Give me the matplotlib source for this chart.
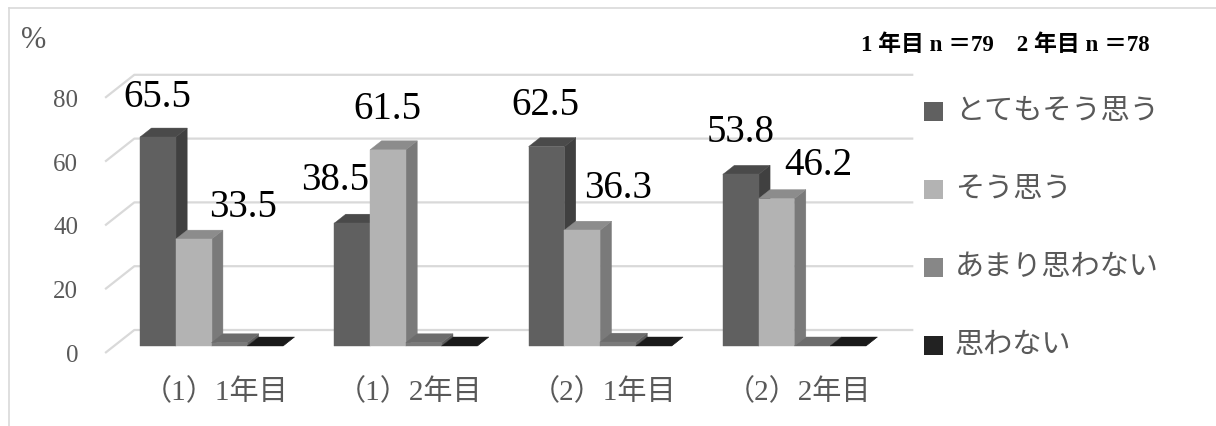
import matplotlib.pyplot as plt
from matplotlib.patches import Polygon, Rectangle
from matplotlib.lines import Line2D

# ── Data ────────────────────────────────────────────────────────────────
CATEGORIES    = ["（1）1年目", "（1）2年目", "（2）1年目", "（2）2年目"]
SERIES        = ["とてもそう思う", "そう思う", "あまり思わない", "思わない"]
VERY_AGREE    = [65.5, 38.5, 62.5, 53.8]
AGREE         = [33.5, 61.5, 36.3, 46.2]
SOMEWHAT_NOT  = [1.0, 1.0, 1.2, 0.0]
DISAGREE      = [0.0, 0.0, 0.0, 0.0]
Y_TICKS       = [0, 20, 40, 60, 80]
NOTE          = "1 年目 n ＝79　2 年目 n ＝78"

VALUES = [VERY_AGREE, AGREE, SOMEWHAT_NOT, DISAGREE]
LABELLED = [True, True, False, False]

# ── Style ───────────────────────────────────────────────────────────────
# (front, side, top) shades per series
SHADES = [("#606060", "#404040", "#4a4a4a"),
          ("#b3b3b3", "#7a7a7a", "#8c8c8c"),
          ("#7a7a7a", "#5c5c5c", "#6c6c6c"),
          ("#242424", "#111111", "#1a1a1a")]
LEGEND_COLORS = ["#606060", "#b3b3b3", "#878787", "#222222"]
GRID = "#d9d9d9"
TXT = "#595959"
SERIF = ["Liberation Serif", "Noto Sans CJK JP"]
JP = ["Noto Sans CJK JP", "DejaVu Sans"]

# data-label offsets (px): horizontal from bar centre, baseline above bar top
LABEL_DX = [[-1, 49], [-17, -1], [-1, 36], [0, 42]]
LABEL_DY = [[30, 22], [33, 31], [32, 32], [32, 24]]

W, H = 1216, 426
GROUP_PX, BAR_PX, X0_PX = 194.3, 35.75, 140.0
UNIT_PX, BASE_PX = 3.19, 346.0
bw = BAR_PX / GROUP_PX


def depth(d):
    """oblique 3D offset (data units) for a depth of d pixels"""
    return 1.27 * d / GROUP_PX, d / UNIT_PX


fig = plt.figure(figsize=(W / 100, H / 100), dpi=100)
fig.patch.set_facecolor("white")
ax = fig.add_axes([0, 0, 1, 1])
ax.set_xlim(-X0_PX / GROUP_PX, (W - X0_PX) / GROUP_PX)
ax.set_ylim((BASE_PX - H) / UNIT_PX, BASE_PX / UNIT_PX)
ax.axis("off")

# chart border (left + top only visible)
fig.add_artist(Line2D([9 / W, 9 / W], [0, 1 - 8 / H], color=GRID, lw=1.2,
                      transform=fig.transFigure))
fig.add_artist(Line2D([9 / W, 1], [1 - 8 / H, 1 - 8 / H], color=GRID, lw=1.2,
                      transform=fig.transFigure))

# ── 3D gridlines: side wall diagonal + back wall line ──────────────────
wall_l = (114 - X0_PX) / GROUP_PX
wall_r = (893 - X0_PX) / GROUP_PX
fx, fy = depth(-7)
bx, by = depth(16)
for v in Y_TICKS:
    ax.plot([wall_l + fx, wall_l + bx, wall_r + bx], [v + fy, v + by, v + by],
            color=GRID, lw=1.6, zorder=1, solid_capstyle="butt")
    ax.text(wall_l + fx - 27 / GROUP_PX, v + fy - 9 / UNIT_PX, str(v),
            ha="right", va="baseline", fontsize=18, color=TXT, family=SERIF)

fig.text(21 / W, 1 - 40 / H, "%", ha="left", va="center", fontsize=22,
         color=TXT, family=SERIF)

# ── Bars ────────────────────────────────────────────────────────────────
ddx, ddy = depth(9)
for g in range(len(CATEGORIES)):
    for s, vals in enumerate(VALUES):
        v = vals[g]
        x0 = g + s * bw
        x1 = x0 + bw
        front, side, top = SHADES[s]
        z = 2 + s * 0.1
        ax.add_patch(Polygon([(x1, 0), (x1 + ddx, ddy), (x1 + ddx, v + ddy), (x1, v)],
                             closed=True, fc=side, ec=side, lw=0.3, zorder=z))
        ax.add_patch(Polygon([(x0, v), (x1, v), (x1 + ddx, v + ddy), (x0 + ddx, v + ddy)],
                             closed=True, fc=top, ec=top, lw=0.3, zorder=z))
        if v > 0:
            ax.add_patch(Polygon([(x0, 0), (x1, 0), (x1, v), (x0, v)],
                                 closed=True, fc=front, ec=front, lw=0.3, zorder=z + 0.05))
        if LABELLED[s]:
            ax.text(x0 + bw / 2 + LABEL_DX[g][s] / GROUP_PX,
                    v + LABEL_DY[g][s] / UNIT_PX, f"{v:.1f}",
                    ha="center", va="baseline", fontsize=28, color="black",
                    family=SERIF, zorder=5)

    ax.text(g + 2 * bw + 0.02, (BASE_PX - 392) / UNIT_PX, CATEGORIES[g],
            ha="center", va="center", fontsize=21, color=TXT, family=SERIF)

# ── Legend (manual) ─────────────────────────────────────────────────────
for i, (name, col) in enumerate(zip(SERIES, LEGEND_COLORS)):
    cy = 111 + i * 78
    fig.add_artist(Rectangle((924 / W, 1 - (cy + 9.5) / H), 19 / W, 19 / H,
                             fc=col, ec="none", transform=fig.transFigure))
    fig.text(955 / W, 1 - cy / H, name, ha="left", va="center",
             fontsize=21, color=TXT, family=JP)

fig.text(1005 / W, 1 - 45 / H, NOTE, ha="center", va="center", fontsize=16.5,
         fontweight="bold", color="black", family=SERIF)

plt.savefig("out.png", dpi=100)
